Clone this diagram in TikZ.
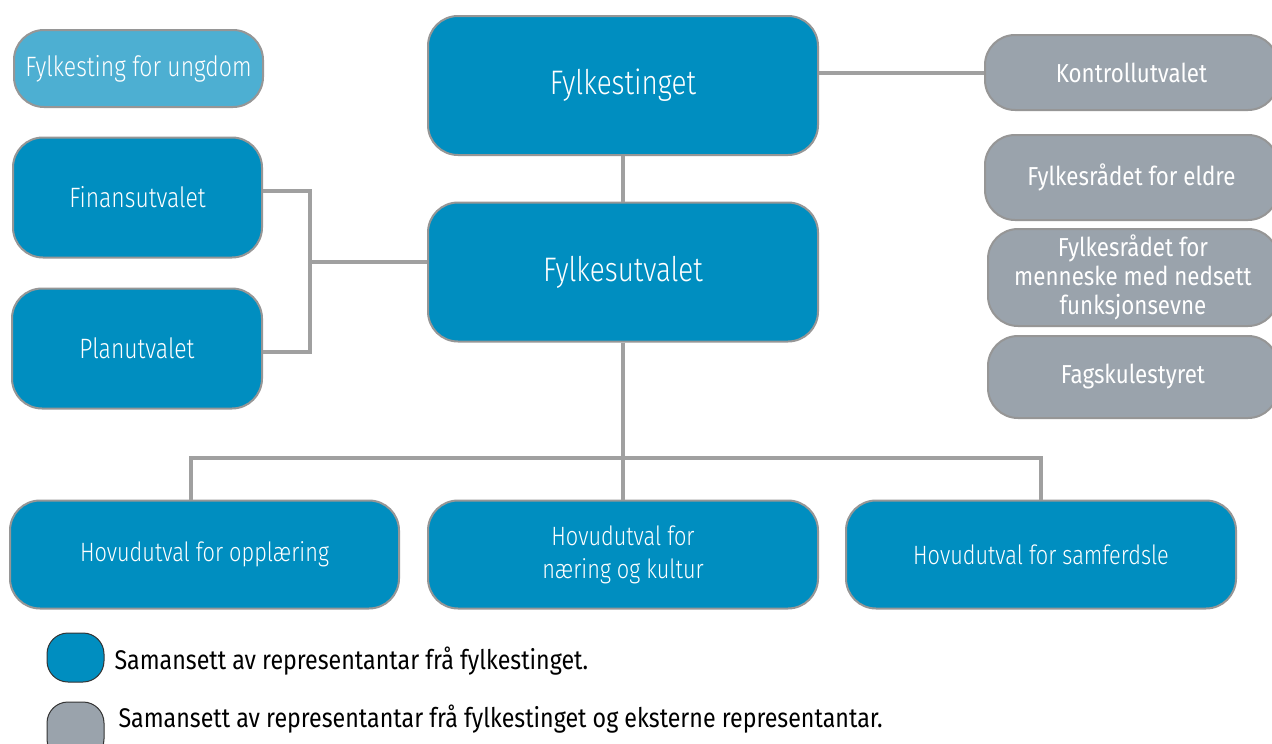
\documentclass[tikz,border=0pt]{standalone}
\usepackage{fontspec}
\setmainfont{Fira Sans}
\newfontfamily\thinfont{Fira Sans Light}[FakeStretch=0.82]
\newfontfamily\narrowfont{Fira Sans}[FakeStretch=0.86]
\definecolor{utvalblue}{RGB}{0,142,192}
\definecolor{ungblue}{RGB}{77,175,210}
\definecolor{eksterngrey}{RGB}{154,163,172}
\definecolor{edgegrey}{RGB}{150,150,150}
\definecolor{linkgrey}{RGB}{160,160,160}
\begin{document}
\begin{tikzpicture}[x=1pt, y=-1pt,
    box/.style={draw=edgegrey, line width=2pt, rounded corners=30pt, align=center,
      text=white, inner sep=0pt},
    bluebox/.style={box, fill=utvalblue, font=\thinfont\fontsize{28}{33}\selectfont},
    greybox/.style={box, fill=eksterngrey, font=\narrowfont\fontsize{26}{29}\selectfont},
    keybox/.style={draw=black!80, line width=1pt, rounded corners=21pt,
      minimum width=57pt, inner sep=0pt},
    keytext/.style={anchor=west, font=\narrowfont\fontsize{27}{30}\selectfont},
    link/.style={draw=linkgrey, line width=4pt}]
  \useasboundingbox [fill=white] (0, 0) rectangle (1272, 744);

  \node [bluebox, fill=ungblue, minimum width=249pt, minimum height=77pt] (ungdom) at (138.5, 68.5) {Fylkesting for ungdom};
  \node [bluebox, minimum width=390pt, minimum height=139pt, font=\thinfont\fontsize{34}{38}\selectfont] (ting) at (623, 85.5) {Fylkestinget};
  \node [bluebox, minimum width=390pt, minimum height=139pt, font=\thinfont\fontsize{34}{38}\selectfont] (utval) at (623, 272) {Fylkesutvalet};
  \node [bluebox, minimum width=249pt, minimum height=120pt] (finans) at (137.5, 197.5) {Finansutvalet};
  \node [bluebox, minimum width=250pt, minimum height=120pt] (plan) at (137, 348.5) {Planutvalet};

  \node [greybox, minimum width=293pt, minimum height=75pt] (kontroll) at (1131.5, 72.5) {Kontrollutvalet};
  \node [greybox, minimum width=293pt, minimum height=85pt] (eldre) at (1131.5, 177.5) {Fylkesrådet for eldre};
  \node [greybox, minimum width=290pt, minimum height=97pt] (funksjon) at (1133, 277.5) {Fylkesrådet for\\menneske med nedsett\\funksjonsevne};
  \node [greybox, minimum width=290pt, minimum height=82pt] (fagskule) at (1133, 377) {Fagskulestyret};

  \node [bluebox, minimum width=389pt, minimum height=108pt, font=\thinfont\fontsize{26.5}{33}\selectfont] (opplaering) at (204.5, 554.5) {Hovudutval for opplæring};
  \node [bluebox, minimum width=390pt, minimum height=108pt, font=\thinfont\fontsize{26.5}{33}\selectfont] (naering) at (623, 554.5) {Hovudutval for\\næring og kultur};
  \node [bluebox, minimum width=390pt, minimum height=108pt, font=\thinfont\fontsize{26.5}{33}\selectfont] (samferdsle) at (1041, 554.5) {Hovudutval for samferdsle};

  \draw [link] (kontroll.west -| ting.east) -- (kontroll.west);
  \draw [link] (ting.south) -- (utval.north);
  \draw [link] ([yshift=7pt]finans.east) -- ++(47, 0) coordinate (fork) |- ([yshift=-3pt]plan.east);
  \draw [link] ([yshift=10pt]utval.west) -- ([yshift=10pt]utval.west -| fork);
  \draw [link] (utval.south) -- (naering.north);
  \coordinate (bar) at (625, 458);
  \draw [link] ([xshift=-14pt]opplaering.north) |- (bar) -| (samferdsle.north);

  \node [keybox, fill=utvalblue, minimum height=49pt] (keyblue) at (75.5, 657.5) {};
  \node [keybox, fill=eksterngrey, minimum height=58pt] (keygrey) at (75.5, 731) {};
  \node [keytext] (textblue) at (111, 661) {Samansett av representantar frå fylkestinget.};
  \node [keytext] (textgrey) at (115, 719) {Samansett av representantar frå fylkestinget og eksterne representantar.};
\end{tikzpicture}
\end{document}
